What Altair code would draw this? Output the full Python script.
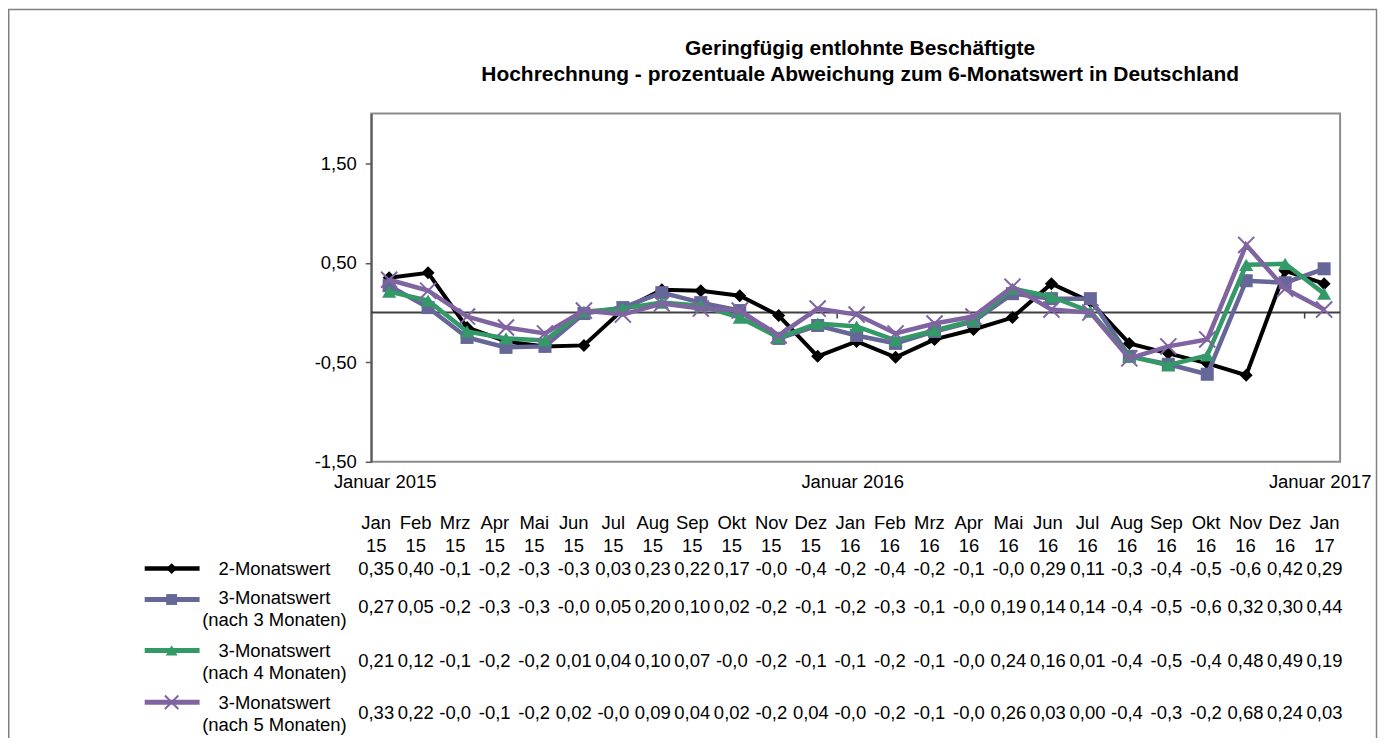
import altair as alt
import pandas as pd

# ---------------- data ----------------
months = ["Jan", "Feb", "Mrz", "Apr", "Mai", "Jun", "Jul", "Aug", "Sep", "Okt", "Nov", "Dez",
          "Jan", "Feb", "Mrz", "Apr", "Mai", "Jun", "Jul", "Aug", "Sep", "Okt", "Nov", "Dez", "Jan"]
years = ["15"] * 12 + ["16"] * 12 + ["17"]
year_labels = ["Januar 2015", "Januar 2016", "Januar 2017"]
year_label_idx = [0, 12, 24]
cat_tick_idx = [11.5, 23.5]
y_ticks = [-1.5, -0.5, 0.5, 1.5]

series_names = ["2-Monatswert",
                "3-Monatswert (nach 3 Monaten)",
                "3-Monatswert (nach 4 Monaten)",
                "3-Monatswert (nach 5 Monaten)"]
legend_texts = ["2-Monatswert",
                "3-Monatswert\n(nach 3 Monaten)",
                "3-Monatswert\n(nach 4 Monaten)",
                "3-Monatswert\n(nach 5 Monaten)"]

v2 = [0.35, 0.40, -0.15, -0.29, -0.34, -0.33, 0.03, 0.23, 0.22, 0.17, -0.03, -0.44,
      -0.29, -0.45, -0.27, -0.17, -0.05, 0.29, 0.11, -0.31, -0.41, -0.51, -0.63, 0.42, 0.29]
v3 = [0.27, 0.05, -0.25, -0.35, -0.34, -0.01, 0.05, 0.20, 0.10, 0.02, -0.26, -0.13,
      -0.23, -0.31, -0.19, -0.09, 0.19, 0.14, 0.14, -0.44, -0.52, -0.62, 0.32, 0.30, 0.44]
v4 = [0.21, 0.12, -0.19, -0.26, -0.28, 0.01, 0.04, 0.10, 0.07, -0.05, -0.25, -0.11,
      -0.14, -0.28, -0.18, -0.08, 0.24, 0.16, 0.01, -0.44, -0.53, -0.43, 0.48, 0.49, 0.19]
v5 = [0.33, 0.22, -0.04, -0.15, -0.21, 0.02, -0.02, 0.09, 0.04, 0.02, -0.23, 0.04,
      -0.02, -0.21, -0.11, -0.04, 0.26, 0.03, 0.00, -0.46, -0.34, -0.27, 0.68, 0.24, 0.03]
values = [v2, v3, v4, v5]

title_lines = ["Geringfügig entlohnte Beschäftigte",
               "Hochrechnung - prozentuale Abweichung zum 6-Monatswert in Deutschland"]

# ---------------- styling ----------------
W, H = 971, 349
FONT = "Liberation Sans"
FS = 18.5
colors = ["#000000", "#666699", "#339966", "#8064a2"]
shapes = ["diamond", "square", "triangle-up", "M-1,-1L1,1M-1,1L1,-1"]
msizes = [170, 170, 200, 260]
filled = [True, True, True, False]
lwidths = [4, 4.5, 4.5, 4.5]

row_y = [456, 495, 549, 601]          # table value rows
leg_line_y = [456, 487, 538, 590]     # legend symbol rows
leg_text_y = [456, 486, 539, 591]     # legend label rows (first line)

xs = alt.Scale(domain=[-0.46, 24.41], nice=False, zero=False)
xt = alt.Scale(domain=[-0.126, 24.394], nice=False, zero=False)
ys = alt.Scale(domain=[-1.5, 2.0], nice=False, zero=False)

rows = []
for s, name in enumerate(series_names):
    for i, v in enumerate(values[s]):
        rows.append({"i": i, "s": name, "v": v,
                     "label": f"{v:.2f}".replace(".", ",")[:4]})
df = pd.DataFrame(rows)
hdr = pd.DataFrame({"i": list(range(len(months))), "m": months, "yy": years})
one = pd.DataFrame({"a": [0]})

layers = []

# outer chart border (top, left, right)
border = dict(color="#808080", strokeWidth=1.5)
layers.append(alt.Chart(one).mark_rule(**border).encode(
    x=alt.value(-364 + 0.75), y=alt.value(-104.25), y2=alt.value(H + 400)))
layers.append(alt.Chart(one).mark_rule(**border).encode(
    x=alt.value(-364), x2=alt.value(1008), y=alt.value(-104.25)))
layers.append(alt.Chart(one).mark_rule(**border).encode(
    x=alt.value(1007.5), y=alt.value(-104.25), y2=alt.value(H + 400)))

# title
for k, t in enumerate(title_lines):
    layers.append(alt.Chart(pd.DataFrame({"t": [t]})).mark_text(
        font=FONT, fontSize=21, fontWeight="bold", color="black",
        align="center", baseline="middle").encode(
        x=alt.value(490), y=alt.value(-65 + 26 * k), text="t:N"))

# zero line carrying the y axis
layers.append(alt.Chart(pd.DataFrame({"z": [0.0]})).mark_rule(
    color="#404040", strokeWidth=2).encode(
    y=alt.Y("z:Q", scale=ys, axis=alt.Axis(
        values=y_ticks, title=None, grid=False,
        labelExpr="(datum.value < 0 ? '-' : '') + replace(format(abs(datum.value), '.2f'), '.', ',')",
        labelFont=FONT, labelFontSize=FS, labelColor="black", labelPadding=9,
        domainColor="#595959", domainWidth=2,
        tickColor="#595959", tickWidth=1.5, tickSize=6))))

# small category ticks on the zero line
layers.append(alt.Chart(pd.DataFrame({"i": cat_tick_idx, "y0": [0.0] * 2, "y1": [-0.06] * 2}))
              .mark_rule(color="#404040", strokeWidth=1.5).encode(
    x=alt.X("i:Q", scale=xs, axis=None),
    y=alt.Y("y0:Q", scale=ys, axis=None), y2="y1:Q"))

# series
for s, name in enumerate(series_names):
    d = df[df.s == name]
    layers.append(alt.Chart(d).mark_line(color=colors[s], strokeWidth=lwidths[s]).encode(
        x=alt.X("i:Q", scale=xs, axis=None),
        y=alt.Y("v:Q", scale=ys, axis=None)))
    layers.append(alt.Chart(d).mark_point(
        shape=shapes[s], size=msizes[s], filled=filled[s], color=colors[s],
        opacity=1, strokeWidth=2 if not filled[s] else 0).encode(
        x=alt.X("i:Q", scale=xs, axis=None),
        y=alt.Y("v:Q", scale=ys, axis=None)))

# year labels under the plot
layers.append(alt.Chart(pd.DataFrame({"i": year_label_idx, "t": year_labels})).mark_text(
    font=FONT, fontSize=FS, color="black", align="center", baseline="middle", dx=-4).encode(
    x=alt.X("i:Q", scale=xs, axis=None), y=alt.value(369), text="t:N"))

# data table header
txt = dict(font=FONT, fontSize=FS, color="black", align="center", baseline="middle")
layers.append(alt.Chart(hdr).mark_text(**txt).encode(
    x=alt.X("i:Q", scale=xt, axis=None), y=alt.value(410), text="m:N"))
layers.append(alt.Chart(hdr).mark_text(**txt).encode(
    x=alt.X("i:Q", scale=xt, axis=None), y=alt.value(433), text="yy:N"))

# data table rows + legend
for s, name in enumerate(series_names):
    d = df[df.s == name]
    layers.append(alt.Chart(d).mark_text(**txt).encode(
        x=alt.X("i:Q", scale=xt, axis=None), y=alt.value(row_y[s]), text="label:N"))
    layers.append(alt.Chart(one).mark_rule(color=colors[s], strokeWidth=lwidths[s] + 0.5).encode(
        x=alt.value(-227), x2=alt.value(-172), y=alt.value(leg_line_y[s])))
    layers.append(alt.Chart(one).mark_point(
        shape=shapes[s], size=msizes[s] * 0.7, filled=filled[s], color=colors[s],
        opacity=1, strokeWidth=2 if not filled[s] else 0).encode(
        x=alt.value(-200), y=alt.value(leg_line_y[s])))
    layers.append(alt.Chart(pd.DataFrame({"t": [legend_texts[s]]})).mark_text(
        lineBreak="\n", lineHeight=22, **txt).encode(
        x=alt.value(-97), y=alt.value(leg_text_y[s]), text="t:N"))

chart = alt.layer(*layers).resolve_scale(x="independent", y="independent").properties(
    width=W, height=H,
    padding={"left": 364, "top": 105, "right": 41, "bottom": 276},
    autosize=alt.AutoSizeParams(type="none"),
).configure_view(stroke="#8c8c8c", strokeWidth=2)

chart.save("out.html", embed_options={"renderer": "svg", "actions": False})
